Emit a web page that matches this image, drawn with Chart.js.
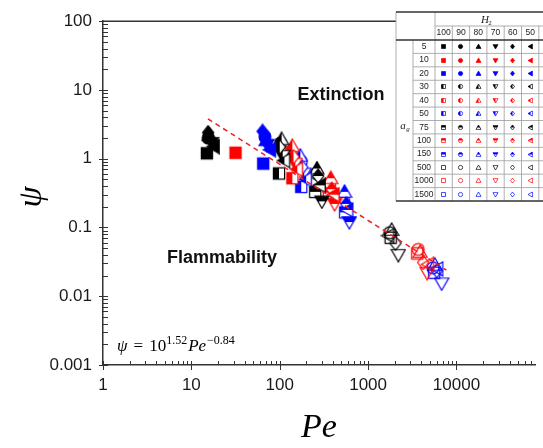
<!DOCTYPE html>
<html>
<head>
<meta charset="utf-8">
<title>psi vs Pe</title>
<script src="https://cdn.jsdelivr.net/npm/chart.js@4"></script>
<style>
    html, body { margin: 0; padding: 0; background: #fff; }
    canvas { display: block; }
</style>
</head>
<body>
<canvas id="chart" width="543" height="448"></canvas>
<script>
// Table rows / columns
const agValues = [5, 10, 20, 30, 40, 50, 75, 100, 150, 500, 1000, 1500];
const h2Values = [100, 90, 80, 70, 60, 50];

// Tick labels
const xTicks = [1, 10, 100, 1000, 10000];
const xTickLabels = ['1', '10', '100', '1000', '10000'];
const yTicks = [0.001, 0.01, 0.1, 1, 10, 100];
const yTickLabels = ['0.001', '0.01', '0.1', '1', '10', '100'];

// Pe and psi for each a_g, in H2 order 100, 90, 80, 70, 60, 50 (null = no point)
const pe5 = [15, 15.5, 16, 17, 15.5, 18];
const psi5 = [1.2, 2.0, 2.2, 1.7, 2.4, 1.5];
const pe10 = [31.6, null, null, null, null, null];
const psi10 = [1.22, null, null, null, null, null];
const pe20 = [65, 68, 70, 72, 64, 78];
const psi20 = [0.85, 2.1, 1.85, 1.6, 2.5, 1.35];
const pe30 = [98, 102, 105, 108, 100, 113];
const psi30 = [0.61, 1.69, 1.92, 1.10, 1.48, 0.94];
const pe40 = [139, 135, 139, 150, 143, 158];
const psi40 = [0.52, 1.30, 1.53, 0.85, 1.07, 0.70];
const pe50 = [175, 175, 171, 189, 180, 199];
const psi50 = [0.39, 0.91, 1.10, 0.61, 0.75, 0.50];
const pe75 = [252, 259, 264, 300, 272, 285];
const psi75 = [0.33, 0.61, 0.72, 0.24, 0.56, 0.41];
const pe100 = [360, 369, 378, 418, 388, 408];
const psi100 = [0.32, 0.44, 0.52, 0.22, 0.36, 0.30];
const pe150 = [550, 527, 541, 613, 568, 585];
const psi150 = [0.166, 0.27, 0.33, 0.12, 0.22, 0.18];
const pe500 = [1800, 1760, 1848, 2200, 2040, 1700];
const psi500 = [0.071, 0.084, 0.092, 0.040, 0.059, 0.076];
const pe1000 = [3600, 3690, 3880, 4650, 4200, 4800];
const psi1000 = [0.042, 0.048, 0.044, 0.022, 0.031, 0.029];
const pe1500 = [5600, 5400, 5700, 6800, 6000, 6100];
const psi1500 = [0.022, 0.026, 0.0286, 0.0154, 0.0236, 0.025];

// Fit line psi = 10^1.52 Pe^-0.84, ends as drawn in the figure
const fitPe = [15.4, 7700];
const fitPsi = [3.8, 0.024];

const peGroups = [pe5, pe10, pe20, pe30, pe40, pe50, pe75, pe100, pe150, pe500, pe1000, pe1500];
const psiGroups = [psi5, psi10, psi20, psi30, psi40, psi50, psi75, psi100, psi150, psi500, psi1000, psi1500];

// marker styles: shape by H2 column, colour + fill by a_g row
const shapes = ['square', 'circle', 'triUp', 'triDown', 'diamond', 'triLeft'];
const colors = ['#000000', '#ff0000', '#0000ff'];
const fills = ['solid', 'halfLeft', 'halfTop', 'open'];

function shapePath(ctx, shape, c, r) {
    ctx.beginPath();
    if (shape === 'square') {
        ctx.rect(c - r * 0.8, c - r * 0.8, r * 1.6, r * 1.6);
    } else if (shape === 'circle') {
        ctx.arc(c, c, r * 0.85, 0, Math.PI * 2);
    } else if (shape === 'triUp') {
        ctx.moveTo(c, c - r);
        ctx.lineTo(c + r, c + r * 0.75);
        ctx.lineTo(c - r, c + r * 0.75);
    } else if (shape === 'triDown') {
        ctx.moveTo(c, c + r);
        ctx.lineTo(c + r, c - r * 0.75);
        ctx.lineTo(c - r, c - r * 0.75);
    } else if (shape === 'diamond') {
        ctx.moveTo(c, c - r);
        ctx.lineTo(c + r * 0.8, c);
        ctx.lineTo(c, c + r);
        ctx.lineTo(c - r * 0.8, c);
    } else if (shape === 'triLeft') {
        ctx.moveTo(c - r, c);
        ctx.lineTo(c + r * 0.75, c - r);
        ctx.lineTo(c + r * 0.75, c + r);
    }
    ctx.closePath();
}

function makeMarker(shape, fill, color, size) {
    const cv = document.createElement('canvas');
    cv.width = size;
    cv.height = size;
    const ctx = cv.getContext('2d');
    const c = size / 2, r = size / 2 - 1;
    if (fill !== 'open') {
        shapePath(ctx, shape, c, r);
        ctx.fillStyle = fill === 'solid' ? color : '#fff';
        ctx.fill();
    }
    if (fill === 'halfLeft' || fill === 'halfTop') {
        ctx.save();
        ctx.beginPath();
        if (fill === 'halfLeft') ctx.rect(0, 0, c, size);
        else ctx.rect(0, 0, size, c);
        ctx.clip();
        shapePath(ctx, shape, c, r);
        ctx.fillStyle = color;
        ctx.fill();
        ctx.restore();
    }
    shapePath(ctx, shape, c, r);
    ctx.strokeStyle = color;
    ctx.lineWidth = size > 10 ? 1.2 : 0.7;
    ctx.stroke();
    return cv;
}

function markerFor(groupIdx, shapeIdx, size) {
    return makeMarker(shapes[shapeIdx], fills[Math.floor(groupIdx / 3)], colors[groupIdx % 3], size);
}

// build datasets
const datasets = [{
    type: 'line',
    data: fitPe.map((x, i) => ({ x, y: fitPsi[i] })),
    borderColor: '#f02020',
    borderWidth: 1.5,
    borderDash: [5, 4],
    pointRadius: 0,
    showLine: true,
    fill: false
}];

agValues.forEach((ag, g) => {
    const pts = [], styles = [];
    peGroups[g].forEach((pe, k) => {
        if (pe === null) return;
        pts.push({ x: pe, y: psiGroups[g][k] });
        styles.push(markerFor(g, k, 16));
    });
    datasets.push({
        label: 'a_g ' + ag,
        data: pts,
        pointStyle: styles,
        pointRadius: 7,
        showLine: false
    });
});

// axis ticks, top frame, texts and the legend table
const decor = {
    id: 'decor',
    afterDraw(chart) {
        const { ctx, chartArea: a, scales: { x, y } } = chart;
        ctx.save();
        ctx.strokeStyle = '#333';
        ctx.lineWidth = 1;

        // x minor/major ticks (inside, majors cross)
        for (let e = 0; e <= 4; e++) {
            for (let m = 1; m <= 9; m++) {
                const px = Math.round(x.getPixelForValue(m * Math.pow(10, e))) + 0.5;
                if (px > a.right) continue;
                ctx.beginPath();
                ctx.moveTo(px, a.bottom + (m === 1 ? 5 : 0));
                ctx.lineTo(px, a.bottom - 4);
                ctx.stroke();
            }
        }
        // y minor/major ticks
        for (let e = -3; e <= 2; e++) {
            for (let m = 1; m <= 9; m++) {
                if (e === 2 && m > 1) break;
                const py = Math.round(y.getPixelForValue(m * Math.pow(10, e))) + 0.5;
                ctx.beginPath();
                ctx.moveTo(a.left - (m === 1 ? 4 : 0), py);
                ctx.lineTo(a.left + 5, py);
                ctx.stroke();
            }
        }
        // top frame line
        ctx.lineWidth = 1.5;
        ctx.beginPath();
        ctx.moveTo(a.left, a.top);
        ctx.lineTo(a.right, a.top);
        ctx.stroke();

        // y axis title
        ctx.fillStyle = '#000';
        ctx.save();
        ctx.translate(32, 197);
        ctx.rotate(-Math.PI / 2);
        ctx.font = 'italic 34px "Liberation Serif"';
        ctx.textAlign = 'center';
        ctx.textBaseline = 'middle';
        ctx.fillText('ψ', 0, 0);
        ctx.restore();

        // region labels
        ctx.font = 'bold 18px "Liberation Sans", Arial';
        ctx.textAlign = 'center';
        ctx.textBaseline = 'middle';
        ctx.fillStyle = '#111';
        ctx.fillText('Extinction', 341, 95);
        ctx.fillText('Flammability', 222, 258);

        // fit equation
        const parts = [
            ['ψ', 'italic 17px "Liberation Serif"', 0, 0],
            ['=', '17px "Liberation Serif"', 0, 6],
            ['10', '17px "Liberation Serif"', 0, 6],
            ['1.52', '12px "Liberation Serif"', -7, 0],
            ['Pe', 'italic 17px "Liberation Serif"', 0, 1],
            ['−0.84', '12px "Liberation Serif"', -7, 1]
        ];
        ctx.textAlign = 'left';
        ctx.textBaseline = 'alphabetic';
        ctx.fillStyle = '#000';
        let fx = 117;
        parts.forEach(([t, f, dy, gap]) => {
            fx += gap;
            ctx.font = f;
            ctx.fillText(t, fx, 351 + dy);
            fx += ctx.measureText(t).width;
        });

        drawTable(ctx);
        ctx.restore();
    }
};

function drawTable(ctx) {
    const L = 396, T = 12, B = 201, colA = 413, colV = 435, colW = 17.3;
    const hRow = 26, hHead = 40, rowH = (B - hHead) / agValues.length;
    const R = 543;
    ctx.fillStyle = '#fff';
    ctx.fillRect(L, T, R - L, B - T);

    ctx.strokeStyle = '#9a9a9a';
    ctx.lineWidth = 0.8;
    const line = (x1, y1, x2, y2) => {
        ctx.beginPath();
        ctx.moveTo(x1, y1);
        ctx.lineTo(x2, y2);
        ctx.stroke();
    };
    line(L, T, L, B);
    line(colA, hHead, colA, B);
    line(colV, T, colV, B);
    for (let k = 1; k <= h2Values.length; k++) line(colV + k * colW, hRow, colV + k * colW, B);
    line(colV, hRow, R, hRow);
    for (let k = 1; k < agValues.length; k++) line(colA, hHead + k * rowH, R, hHead + k * rowH);

    ctx.strokeStyle = '#333';
    ctx.lineWidth = 1.5;
    line(L, T, R, T);
    line(L, hHead, R, hHead);
    line(L, B, R, B);

    // header texts
    ctx.fillStyle = '#222';
    ctx.textBaseline = 'middle';
    ctx.textAlign = 'center';
    ctx.font = 'italic 11px "Liberation Serif"';
    ctx.fillText('H', 485, 20);
    ctx.font = '7px "Liberation Serif"';
    ctx.fillText('2', 490, 23);
    ctx.font = '8.5px "Liberation Sans", Arial';
    h2Values.forEach((h, k) => ctx.fillText(String(h), colV + (k + 0.5) * colW, 33));

    ctx.font = 'italic 11px "Liberation Serif"';
    ctx.fillText('a', 403, 126);
    ctx.font = 'italic 7px "Liberation Serif"';
    ctx.fillText('g', 408, 129);

    ctx.font = '8.5px "Liberation Sans", Arial';
    agValues.forEach((ag, g) => {
        const cy = hHead + (g + 0.5) * rowH;
        ctx.fillStyle = '#222';
        ctx.fillText(String(ag), 424, cy);
        h2Values.forEach((h, k) => {
            const m = markerFor(g, k, 7);
            ctx.drawImage(m, Math.round(colV + (k + 0.5) * colW - 3.5), Math.round(cy - 3.5));
        });
    });
}

new Chart(document.getElementById('chart'), {
    type: 'scatter',
    data: { datasets },
    options: {
        responsive: false,
        devicePixelRatio: 1,
        animation: false,
        layout: { padding: { top: 12, right: 0, left: 0, bottom: 0 } },
        plugins: { legend: { display: false }, tooltip: { enabled: false } },
        scales: {
            x: {
                type: 'logarithmic',
                min: 1,
                max: 77400,
                afterBuildTicks: s => { s.ticks = xTicks.map(v => ({ value: v })); },
                afterFit: s => { s.height = 83; },
                grid: { display: false, drawTicks: false },
                border: { display: true, color: '#333', width: 1.5 },
                ticks: {
                    autoSkip: false,
                    maxRotation: 0,
                    padding: 10,
                    color: '#1a1a1a',
                    font: { family: '"Liberation Sans", Arial', size: 17 },
                    callback: (v, i) => xTickLabels[i]
                },
                title: {
                    display: true,
                    text: 'Pe',
                    color: '#000',
                    font: { family: '"Liberation Serif"', size: 34, style: 'italic' },
                    padding: { top: 0, bottom: 0 }
                }
            },
            y: {
                type: 'logarithmic',
                min: 0.001,
                max: 100,
                afterBuildTicks: s => { s.ticks = yTicks.map(v => ({ value: v })); },
                afterFit: s => { s.width = 103; },
                grid: { display: false, drawTicks: false },
                border: { display: true, color: '#333', width: 1.5 },
                ticks: {
                    autoSkip: false,
                    padding: 11,
                    color: '#1a1a1a',
                    font: { family: '"Liberation Sans", Arial', size: 17 },
                    callback: (v, i) => yTickLabels[i]
                }
            }
        }
    },
    plugins: [decor]
});
</script>
</body>
</html>
